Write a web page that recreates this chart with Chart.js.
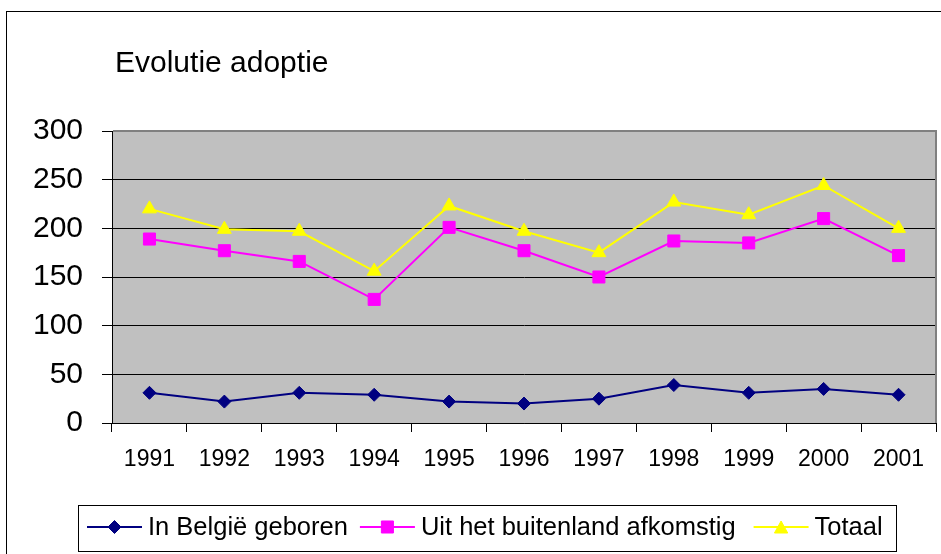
<!DOCTYPE html>
<html><head><meta charset="utf-8">
<script src="https://cdn.jsdelivr.net/npm/chart.js@4/dist/chart.umd.min.js"></script>
<style>html,body{margin:0;padding:0;background:#fff;}canvas{display:block;}</style>
</head><body>
<canvas id="c" width="941" height="554"></canvas>
<script>
const categories = ['1991','1992','1993','1994','1995','1996','1997','1998','1999','2000','2001'];
const belgieGeboren = [31, 22, 31, 29, 22, 20, 25, 39, 31, 35, 29];
const buitenlandAfkomstig = [189, 177, 166, 127, 201, 177, 150, 187, 185, 210, 172];
const totaal = [220, 199, 197, 156, 223, 197, 175, 227, 214, 244, 200];
const yMin = 0, yMax = 300, yStep = 50;
const chartTitle = 'Evolutie adoptie';
const seriesNames = ['In België geboren', 'Uit het buitenland afkomstig', 'Totaal'];

const FONT = '"Liberation Sans", Arial, sans-serif';
const colors = ['#000080', '#FF00FF', '#FFFF00'];
const styles = ['rectRot', 'rect', 'triangle'];
const radii = [6.5, 8.5, 8];

function drawMarker(ctx, style, r, x, y, color) {
  ctx.save();
  ctx.fillStyle = color; ctx.strokeStyle = color; ctx.lineWidth = 1;
  ctx.beginPath();
  if (style === 'rectRot') {
    ctx.moveTo(x, y - r); ctx.lineTo(x + r, y); ctx.lineTo(x, y + r); ctx.lineTo(x - r, y);
  } else if (style === 'rect') {
    const s = Math.SQRT1_2 * r;
    ctx.rect(x - s, y - s, 2 * s, 2 * s);
  } else {
    const h = r * 0.75;
    ctx.moveTo(x, y - h); ctx.lineTo(x + r * 0.83, y + h); ctx.lineTo(x - r * 0.83, y + h);
  }
  ctx.closePath(); ctx.fill(); ctx.stroke();
  ctx.restore();
}

const framePlugin = {
  id: 'frame',
  beforeDraw(chart) {
    const {ctx, chartArea: a} = chart;
    ctx.save();
    ctx.fillStyle = '#fff'; ctx.fillRect(0, 0, chart.width, chart.height);
    ctx.strokeStyle = '#000'; ctx.lineWidth = 1;
    ctx.strokeRect(6.5, 11.5, chart.width, chart.height);
    ctx.fillStyle = '#c0c0c0';
    ctx.fillRect(a.left, a.top, a.right - a.left, a.bottom - a.top);
    ctx.restore();
  },
  beforeDatasetsDraw(chart) {
    const {ctx, chartArea: a} = chart;
    ctx.save();
    ctx.strokeStyle = '#808080'; ctx.lineWidth = 2;
    ctx.beginPath();
    ctx.moveTo(a.left + 1, a.top); ctx.lineTo(a.right, a.top); ctx.lineTo(a.right, a.bottom);
    ctx.stroke();
    ctx.restore();
  },
  afterDraw(chart) {
    const ctx = chart.ctx;
    ctx.save();
    ctx.fillStyle = '#000';
    ctx.font = '30px ' + FONT;
    ctx.textBaseline = 'alphabetic';
    ctx.textAlign = 'left';
    ctx.fillText(chartTitle, 115, 72);
    // legend
    ctx.strokeStyle = '#000'; ctx.lineWidth = 1;
    ctx.strokeRect(78.5, 505.5, 818, 46);
    ctx.font = '25.5px ' + FONT;
    ctx.textBaseline = 'middle';
    let x = 87;
    const y = 527;
    chart.data.datasets.forEach((ds, i) => {
      ctx.strokeStyle = ds.borderColor; ctx.lineWidth = 2;
      ctx.beginPath(); ctx.moveTo(x, y); ctx.lineTo(x + 55, y); ctx.stroke();
      drawMarker(ctx, styles[i], radii[i], x + 27.5, y, ds.borderColor);
      x += 61;
      ctx.fillStyle = '#000';
      ctx.fillText(ds.label, x, y + 1);
      x += ctx.measureText(ds.label).width + (i === 1 ? 18 : 12);
    });
    ctx.restore();
  }
};

const seriesData = [belgieGeboren, buitenlandAfkomstig, totaal];

new Chart(document.getElementById('c'), {
  type: 'line',
  data: {
    labels: categories,
    datasets: seriesData.map((d, i) => ({
      label: seriesNames[i],
      data: d,
      borderColor: colors[i],
      backgroundColor: colors[i],
      borderWidth: 2,
      pointStyle: styles[i],
      pointRadius: radii[i],
      pointHoverRadius: radii[i],
      pointBackgroundColor: colors[i],
      pointBorderColor: colors[i],
      pointBorderWidth: 1,
      tension: 0,
      fill: false,
      clip: false,
      order: 2 - i
    }))
  },
  options: {
    responsive: false,
    devicePixelRatio: 1,
    animation: false,
    events: [],
    layout: { autoPadding: false, padding: { top: 131, right: 5, left: 0, bottom: 0 } },
    plugins: { legend: { display: false }, title: { display: false }, tooltip: { enabled: false } },
    scales: {
      x: {
        type: 'category',
        offset: true,
        grid: { offset: true, drawOnChartArea: false, drawTicks: true, tickLength: 9, tickColor: '#000', tickWidth: 1 },
        border: { color: '#000', width: 1 },
        ticks: { font: { size: 23, family: FONT }, color: '#000', padding: 14, maxRotation: 0, autoSkip: false },
        afterFit(s) { s.height = 131; s.paddingRight = 0; }
      },
      y: {
        min: yMin, max: yMax,
        grid: { color: '#000', lineWidth: 1, tickLength: 10, tickColor: '#000' },
        border: { color: '#000', width: 1 },
        ticks: { stepSize: yStep, font: { size: 30, family: FONT }, color: '#000', padding: 19 },
        afterFit(s) { s.width = 112; }
      }
    }
  },
  plugins: [framePlugin]
});
</script>
</body></html>
